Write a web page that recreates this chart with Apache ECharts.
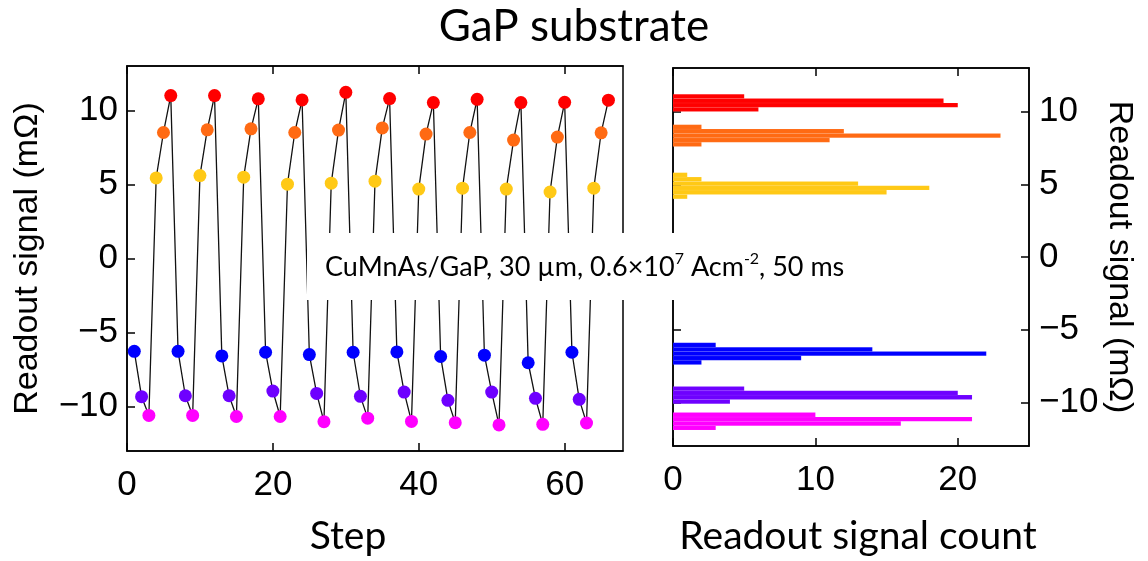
<!DOCTYPE html>
<html>
<head>
    <meta charset="utf-8">
    <script type="text/javascript" src="https://cdn.jsdelivr.net/npm/echarts@6/dist/echarts.min.js"></script>
    <title>GaP substrate</title>
</head>
<body style="margin:0;background:#fff;">
    <div id="container" style="width:1148px;height:561px;"></div>
    <script type="text/javascript">
    // readout values per switching state, one value per cycle (11 cycles, 6 steps each)
    var blueVals = [-6.27, -6.27, -6.58, -6.33, -6.49, -6.33, -6.31, -6.62, -6.53, -7.04, -6.33];
    var purpleVals = [-9.33, -9.27, -9.27, -8.95, -9.11, -9.31, -9.02, -9.58, -9.02, -9.44, -9.51];
    var magentaVals = [-10.6, -10.6, -10.67, -10.67, -11.02, -10.78, -11.0, -11.09, -11.24, -11.2, -11.11];
    var yellowVals = [5.44, 5.6, 5.49, 5.02, 5.09, 5.22, 4.69, 4.75, 4.69, 4.49, 4.75];
    var orangeVals = [8.51, 8.69, 8.76, 8.51, 8.67, 8.82, 8.4, 8.51, 8.0, 8.2, 8.49];
    var redVals = [11.0, 11.0, 10.78, 10.71, 11.22, 10.8, 10.53, 10.75, 10.53, 10.55, 10.69];

    // histogram bins (lower edge, count)
    var binWidth = 0.3;
    var redBinLo = [10.0, 10.3, 10.6, 10.9];
    var redCounts = [6, 20, 19, 5];
    var orangeBinLo = [7.6, 7.9, 8.2, 8.5, 8.8];
    var orangeCounts = [2, 11, 23, 12, 2];
    var yellowBinLo = [4.0, 4.3, 4.6, 4.9, 5.2, 5.5];
    var yellowCounts = [1, 15, 18, 13, 2, 1];
    var blueBinLo = [-7.4, -7.1, -6.8, -6.5, -6.2];
    var blueCounts = [2, 9, 22, 14, 3];
    var purpleBinLo = [-10.1, -9.8, -9.5, -9.2];
    var purpleCounts = [4, 21, 20, 5];
    var magentaBinLo = [-11.9, -11.6, -11.3, -11.0];
    var magentaCounts = [3, 16, 21, 10];

    // tick labels
    var stepTicks = [0, 20, 40, 60];
    var countTicks = [0, 10, 20];
    var signalTicks = [-10, -5, 0, 5, 10];

    var colors = {
        blue: '#0000ff',
        purple: '#6e00ff',
        magenta: '#ff00ff',
        yellow: '#ffc916',
        orange: '#ff6a13',
        red: '#ff0000'
    };

    var myChart = echarts.init(document.getElementById('container'));

    // step sequence: blue, purple, magenta, yellow, orange, red, repeat
    var order = [
        [blueVals, colors.blue],
        [purpleVals, colors.purple],
        [magentaVals, colors.magenta],
        [yellowVals, colors.yellow],
        [orangeVals, colors.orange],
        [redVals, colors.red]
    ];
    var stepData = [];
    for (var c = 0; c < redVals.length; c++) {
        for (var k = 0; k < order.length; k++) {
            stepData.push({
                value: [c * order.length + k + 1, order[k][0][c]],
                itemStyle: { color: order[k][1] }
            });
        }
    }

    function histSeries(lo, counts, color) {
        return {
            type: 'custom',
            xAxisIndex: 2,
            yAxisIndex: 2,
            data: lo.map(function (l, i) { return [counts[i], l, l + binWidth]; }),
            encode: { x: 0, y: [1, 2] },
            renderItem: function (params, api) {
                var p0 = api.coord([0, api.value(2)]);
                var p1 = api.coord([api.value(0), api.value(1)]);
                return {
                    type: 'rect',
                    shape: { x: p0[0], y: p0[1], width: p1[0] - p0[0], height: p1[1] - p0[1] },
                    style: { fill: color, stroke: 'rgba(255,255,255,0.12)', lineWidth: 0.5 }
                };
            }
        };
    }

    var tickFont = { color: '#000', fontSize: 35, fontFamily: 'Liberation Sans' };
    var lineStyle = { color: '#000', width: 1.5 };
    var minus = function (v) { return String(v).replace('-', '\u2212'); };

    var option = {
        animation: false,
        title: {
            text: 'GaP substrate',
            left: 'center',
            top: 0,
            textStyle: { fontFamily: 'Lato', fontWeight: 'normal', fontSize: 44, color: '#000' }
        },
        grid: [
            { left: 127, top: 66, width: 496, height: 388, show: true, borderColor: '#000', borderWidth: 1.5 },
            { left: 673, top: 68, width: 356, height: 381, show: true, borderColor: '#000', borderWidth: 1.5 }
        ],
        xAxis: [
            {
                gridIndex: 0, type: 'value', min: 0, max: 68, position: 'bottom',
                axisLine: { onZero: false, lineStyle: lineStyle },
                splitLine: { show: false },
                axisTick: { inside: true, length: 8, lineStyle: lineStyle, customValues: stepTicks },
                axisLabel: Object.assign({ margin: 17, customValues: stepTicks }, tickFont),
                name: 'Step', nameLocation: 'middle', nameGap: 66,
                nameTextStyle: { fontFamily: 'Lato', fontSize: 39, color: '#000', padding: [0, 54, 0, 0] }
            },
            {
                gridIndex: 0, type: 'value', min: 0, max: 68, position: 'top',
                axisLine: { onZero: false, lineStyle: lineStyle },
                splitLine: { show: false },
                axisTick: { inside: true, length: 8, lineStyle: lineStyle, customValues: stepTicks },
                axisLabel: { show: false }
            },
            {
                gridIndex: 1, type: 'value', min: 0, max: 25, position: 'bottom',
                axisLine: { onZero: false, lineStyle: lineStyle },
                splitLine: { show: false },
                axisTick: { inside: true, length: 8, lineStyle: lineStyle, customValues: countTicks },
                axisLabel: Object.assign({ margin: 17, customValues: countTicks }, tickFont),
                name: 'Readout signal count', nameLocation: 'middle', nameGap: 71,
                nameTextStyle: { fontFamily: 'Lato', fontSize: 39, color: '#000', padding: [0, 0, 0, 14] }
            },
            {
                gridIndex: 1, type: 'value', min: 0, max: 25, position: 'top',
                axisLine: { onZero: false, lineStyle: lineStyle },
                splitLine: { show: false },
                axisTick: { inside: true, length: 8, lineStyle: lineStyle, customValues: countTicks },
                axisLabel: { show: false }
            }
        ],
        yAxis: [
            {
                gridIndex: 0, type: 'value', min: -13, max: 13, position: 'left',
                axisLine: { show: true, onZero: false, lineStyle: lineStyle },
                splitLine: { show: false },
                axisTick: { show: true, inside: true, length: 8, lineStyle: lineStyle, customValues: signalTicks },
                axisLabel: Object.assign({ margin: 9, customValues: signalTicks, formatter: minus }, tickFont),
                name: 'Readout signal (m\u03a9)', nameLocation: 'middle', nameGap: 82, nameRotate: 90,
                nameTextStyle: { fontFamily: 'Liberation Sans', fontSize: 34, color: '#000' }
            },
            {
                gridIndex: 1, type: 'value', min: -13, max: 13, position: 'left',
                axisLine: { show: true, onZero: false, lineStyle: lineStyle },
                splitLine: { show: false },
                axisTick: { show: true, inside: true, length: 8, lineStyle: lineStyle, customValues: signalTicks },
                axisLabel: { show: false }
            },
            {
                gridIndex: 1, type: 'value', min: -13, max: 13, position: 'right',
                axisLine: { show: true, onZero: false, lineStyle: lineStyle },
                splitLine: { show: false },
                axisTick: { show: true, inside: true, length: 8, lineStyle: lineStyle, customValues: signalTicks },
                axisLabel: Object.assign({ margin: 10, customValues: signalTicks, formatter: minus }, tickFont),
                name: 'Readout signal (m\u03a9)', nameLocation: 'middle', nameGap: 72, nameRotate: -90,
                nameTextStyle: { fontFamily: 'Liberation Sans', fontSize: 34, color: '#000' }
            }
        ],
        series: [
            {
                type: 'line',
                xAxisIndex: 0,
                yAxisIndex: 0,
                data: stepData,
                symbol: 'circle',
                symbolSize: 13,
                showAllSymbol: true,
                lineStyle: { color: '#111', width: 1.3 },
                itemStyle: { borderWidth: 0 }
            },
            histSeries(redBinLo, redCounts, colors.red),
            histSeries(orangeBinLo, orangeCounts, colors.orange),
            histSeries(yellowBinLo, yellowCounts, colors.yellow),
            histSeries(blueBinLo, blueCounts, colors.blue),
            histSeries(purpleBinLo, purpleCounts, colors.purple),
            histSeries(magentaBinLo, magentaCounts, colors.magenta)
        ],
        // white annotation box over both panels
        graphic: [
            {
                type: 'rect', z: 100,
                shape: { x: 307, y: 233, width: 550, height: 67 },
                style: { fill: '#fff' }
            },
            {
                type: 'text', z: 101, x: 325, y: 267,
                style: {
                    text: '{n|CuMnAs/GaP, 30 \u00b5m, 0.6\u00d710}{s|7}{n| Acm}{s|-2}{n|, 50 ms}',
                    textVerticalAlign: 'middle',
                    rich: {
                        n: { fontFamily: 'Lato', fontSize: 27, lineHeight: 32, fill: '#000' },
                        s: { fontFamily: 'Lato', fontSize: 16, lineHeight: 18, verticalAlign: 'top', fill: '#000' }
                    }
                }
            }
        ]
    };

    myChart.setOption(option);
    </script>
</body>
</html>
